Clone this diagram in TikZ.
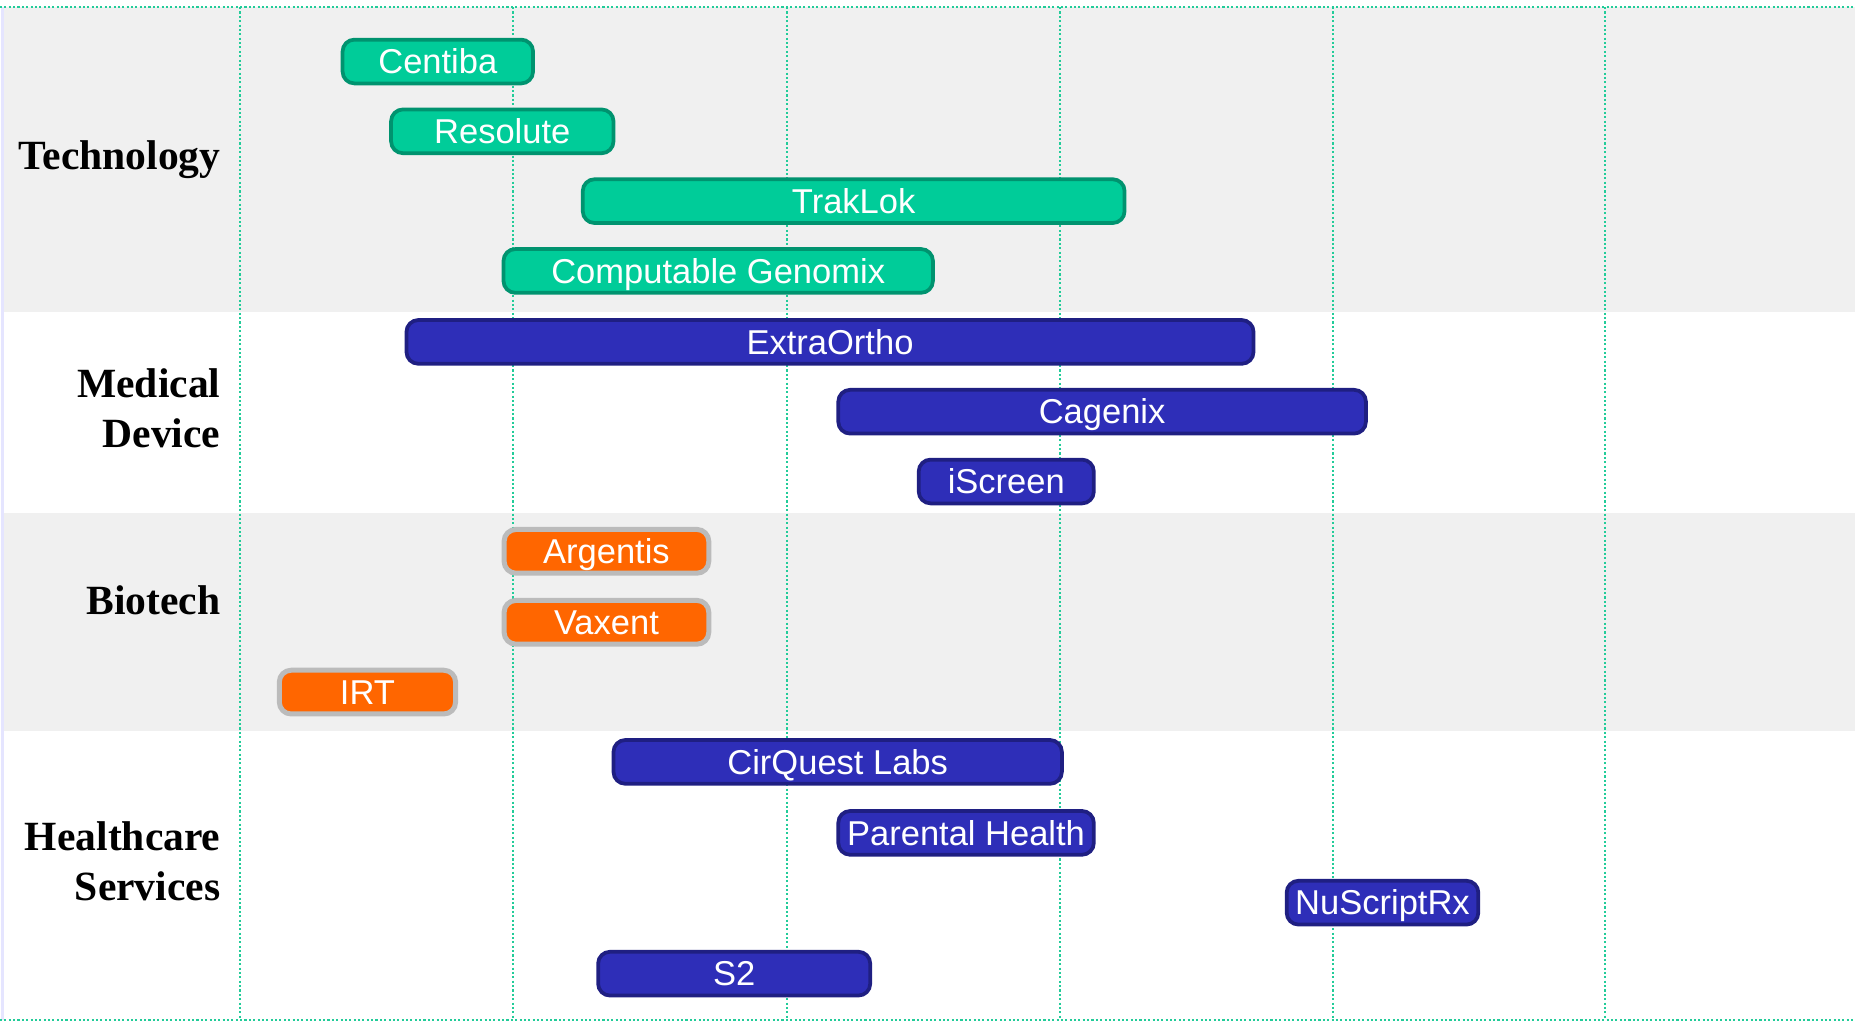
\documentclass[tikz,border=0pt]{standalone}
\usepackage{fontspec}
\setmainfont{Liberation Serif}
\newfontfamily\barfont{Liberation Sans}

\definecolor{techfill}{HTML}{00CC99}
\definecolor{techline}{HTML}{00936F}
\definecolor{medfill}{HTML}{2E2EB8}
\definecolor{medline}{HTML}{1F1F82}
\definecolor{biofill}{HTML}{FF6600}
\definecolor{bioline}{HTML}{BBBBBB}
\definecolor{gridteal}{HTML}{22CC99}
\definecolor{bandgray}{HTML}{F0F0F0}

\tikzset{
  bar/.style={rounded corners=0.1cm, minimum height=0.37cm, inner sep=0pt,
    text height=5.9pt, text depth=0pt,
    anchor=west, text=white, font=\barfont\fontsize{8.3}{10}\selectfont},
  techbar/.style={bar, fill=techfill, draw=techline, line width=0.9pt},
  medbar/.style={bar, fill=medfill, draw=medline, line width=0.9pt},
  biobar/.style={bar, fill=biofill, draw=bioline, line width=1.2pt},
  sector/.style={anchor=east, align=right, inner sep=0pt,
    font=\bfseries\fontsize{10}{12.2}\selectfont},
  gridline/.style={gridteal, line width=0.5pt, dash pattern=on 0.5pt off 0.55pt}
}

\begin{document}
\begin{tikzpicture}
        % rögzítjük a kép méretét
        \useasboundingbox (0,0) rectangle (15.68,-8.65);
        % a sávok háttere
        \fill[bandgray] (0.03,-0.06) rectangle (15.68,-2.64);
        \fill[bandgray] (0.03,-4.34) rectangle (15.68,-6.18);
        \draw[blue!10, line width=0.6pt] (0.02,-0.06) -- (0.02,-8.62);
        % pontozott rácsvonalak
        \foreach \x in {2.03,4.34,6.65,8.96,11.27,13.57}
          \draw[gridline] (\x,-0.06) -- (\x,-8.62);
        \draw[gridline] (0,-0.06) -- (15.68,-0.06);
        \draw[gridline] (0,-8.62) -- (15.68,-8.62);
        % a szektorok nevei
        \node[sector] (technology) at (1.87,-1.35) {Technology};
        \node[sector] (medical) at (1.87,-3.45) {Medical\\Device};
        \node[sector] (biotech) at (1.87,-5.07) {Biotech};
        \node[sector] (healthcare) at (1.87,-7.28) {Healthcare\\Services};
        % Technology sávok
        \node[techbar, minimum width=1.61cm] (centiba) at (2.88,-0.52) {Centiba};
        \node[techbar, minimum width=1.88cm] (resolute) at (3.29,-1.11) {Resolute};
        \node[techbar, minimum width=4.58cm] (traklok) at (4.91,-1.70) {TrakLok};
        \node[techbar, minimum width=3.63cm] (genomix) at (4.24,-2.29) {Computable Genomix};
        % Medical Device sávok
        \node[medbar, minimum width=7.16cm] (extraortho) at (3.42,-2.89) {ExtraOrtho};
        \node[medbar, minimum width=4.46cm] (cagenix) at (7.07,-3.48) {Cagenix};
        \node[medbar, minimum width=1.48cm] (iscreen) at (7.75,-4.07) {iScreen};
        % Biotech sávok
        \node[biobar, minimum width=1.73cm] (argentis) at (4.24,-4.66) {Argentis};
        \node[biobar, minimum width=1.73cm] (vaxent) at (4.24,-5.26) {Vaxent};
        \node[biobar, minimum width=1.49cm] (irt) at (2.34,-5.85) {IRT};
        % Healthcare Services sávok
        \node[medbar, minimum width=3.79cm] (cirquest) at (5.17,-6.44) {CirQuest Labs};
        \node[medbar, minimum width=2.16cm] (parental) at (7.07,-7.04) {Parental Health};
        \node[medbar, minimum width=1.62cm] (nuscript) at (10.86,-7.63) {NuScriptRx};
        \node[medbar, minimum width=2.30cm] (stwo) at (5.04,-8.23) {S2};
    \end{tikzpicture}
\end{document}
